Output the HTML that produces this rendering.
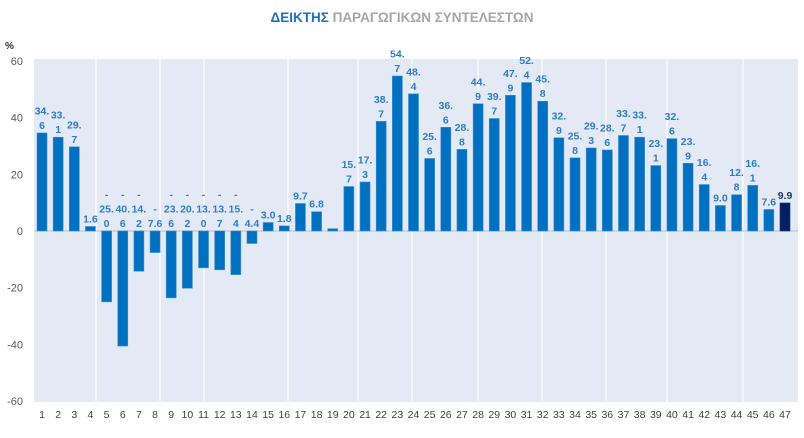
<!DOCTYPE html>
<html><head><meta charset="utf-8">
<style>
body{margin:0;background:#fff;width:804px;height:433px;overflow:hidden;font-family:"Liberation Sans",sans-serif;}
svg text{font-family:"Liberation Sans","DejaVu Sans",sans-serif;}
</style></head>
<body>
<svg id="chart" width="804" height="433">
<text x="402" y="22" text-anchor="middle" font-size="13.5" font-weight="bold"><tspan fill="#1f6fc0">ΔΕΙΚΤΗΣ</tspan><tspan fill="#a6a6a6"> ΠΑΡΑΓΩΓΙΚΩΝ ΣΥΝΤΕΛΕΣΤΩΝ</tspan></text>
<text x="5" y="49" font-size="10" font-weight="bold" fill="#333">%</text>
<rect x="34" y="59" width="764" height="343" fill="#e3eaf6"/>
<g id="vlines"></g>
<g id="yticks"></g>
<line x1="34" x2="798" y1="231" y2="231" stroke="#c8c8c8" stroke-width="1.2"/>
<g id="bars"></g>
<g id="labels"></g>
<g id="xticks"></g>
</svg>
<script>
const categories=[];for(let i=1;i<=47;i++)categories.push(String(i));
const values=[34.6,33.1,29.7,1.6,-25.0,-40.6,-14.2,-7.6,-23.6,-20.2,-13.0,-13.7,-15.4,-4.4,3.0,1.8,9.7,6.8,0.8,15.7,17.3,38.7,54.7,48.4,25.6,36.6,28.8,44.9,39.7,47.9,52.4,45.8,32.9,25.8,29.3,28.6,33.7,33.1,23.1,32.6,23.9,16.4,9.0,12.8,16.1,7.6,9.9];
const yTicks=[60,40,20,0,-20,-40,-60];
const NS="http://www.w3.org/2000/svg";
const yScale=v=>231-v*(340/120);
const xScale=i=>42+i*(743/46);
function mk(t,a,p){const e=document.createElementNS(NS,t);for(const k in a)e.setAttribute(k,a[k]);p.appendChild(e);return e;}
const vl=document.getElementById('vlines');
[96,160,204,288,358,412,478,542,606,667,743].forEach(x=>{
 const l=mk('line',{x1:x,x2:x,y1:59,y2:402,stroke:'#ffffff','stroke-width':1.2},vl);
 
 
});
const yt=document.getElementById('yticks');
yTicks.forEach(v=>{
 const t=mk('text',{x:23,y:yScale(v)+4,'text-anchor':'end','font-size':11,fill:'#595959'},yt);
 t.textContent=v;
 
 
});
const bg=document.getElementById('bars'),lg=document.getElementById('labels'),xt=document.getElementById('xticks');
values.forEach((v,i)=>{
 const cx=xScale(i),y0=yScale(0),y1=yScale(v);
 const r=mk('rect',{x:cx-5,y:Math.min(y0,y1),width:10,height:Math.max(1.5,Math.abs(y1-y0)),fill:i===46?'#002060':'#0070c0',stroke:i===46?'#1a3a7a':'#3f8fd0','stroke-width':0.6},bg);
 
 
 const tx=mk('text',{x:cx,y:418,'text-anchor':'middle','font-size':10.5,fill:'#404040'},xt);
 tx.textContent=categories[i];
 
 
 if(i===18)return;
 const s=Math.abs(v).toFixed(1);
 let lines;
 if(s.length<=3)lines=[s];else lines=[s.slice(0,3),s.slice(3)];
 if(v<0)lines=['-'].concat(lines);
 const base=(v>=0?y1:y0)-4;
 lines.forEach((ln,j)=>{
  const t=mk('text',{x:cx,y:base-(lines.length-1-j)*14.5,'text-anchor':'middle','font-size':10.5,'font-weight':'bold',fill:i===46?'#1f3864':'#2f7ccb'},lg);
  t.textContent=ln;
  
  
 });
});
</script>
</body></html>
